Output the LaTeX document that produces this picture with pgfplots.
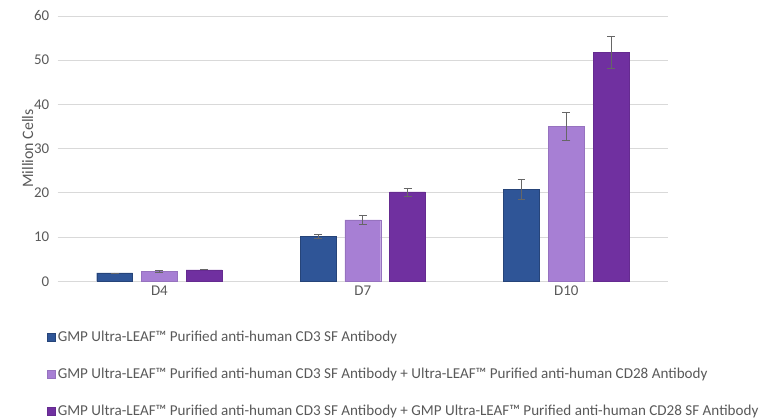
\documentclass[border=0pt]{standalone}
\usepackage{fontspec}
\setmainfont{Carlito}
\usepackage{pgfplots}
\pgfplotsset{compat=1.18}
\usepackage{pgfplotstable}

\definecolor{cdblue}{HTML}{2F5597}
\definecolor{cdlilac}{HTML}{A77FD4}
\definecolor{cdpurple}{HTML}{7030A0}
\definecolor{gridgray}{HTML}{D9D9D9}
\definecolor{textgray}{HTML}{595959}

% bars sit at category index + offset (-0.22, 0, +0.22)
\pgfplotstableread{
x y err
-0.22 1.9 0.0
0.78 10.1 0.5
1.78 20.8 2.3
}\cdthree
\pgfplotstableread{
x y err
0 2.2 0.2
1 13.9 1.0
2 35.0 3.1
}\cdtwentyeight
\pgfplotstableread{
x y err
0.22 2.6 0.0
1.22 20.2 0.9
2.22 51.8 3.6
}\cdgmp

\begin{document}
\begin{tikzpicture}
\begin{axis}[
    scale only axis,
    width=614pt, height=267pt,
    xmin=-0.5, xmax=2.5,
    ymin=0, ymax=60,
    ytick distance=10,
    xtick={0,1,2},
    xticklabels={D4, D7, D10},
    axis line style={draw=none},
    tick style={draw=none},
    ymajorgrids,
    grid style={gridgray, line width=0.8pt},
    /pgf/number format/assume math mode=true,
    tick label style={font=\fontsize{15}{17}\selectfont, text=textgray},
    yticklabel style={xshift=-5pt},
    xticklabel style={yshift=-1pt},
    ylabel={Million Cells},
    ylabel style={font=\fontsize{16}{18}\selectfont, text=textgray, yshift=-6pt},
    bar width=0.176,
    bar shift=0,
    legend cell align=left,
    legend style={
        at={(rel axis cs:0,0)}, anchor=north west,
        xshift=-11pt, yshift=-48pt,
        draw=none, fill=none,
        font=\fontsize{15.2}{17}\selectfont, text=textgray,
        row sep=21pt, inner sep=0pt,
        nodes={inner xsep=2.5pt},
    },
    legend image code/.code={\fill[#1] (0pt,-4pt) rectangle (8pt,4pt);},
    error bars/y dir=both,
    error bars/y explicit,
    error bars/error bar style={gray!80!black, line width=0.8pt},
    error bars/error mark options={rotate=90, mark size=4pt, gray!80!black, line width=0.8pt},
]
\addplot[ybar, fill=cdblue, draw=cdblue!80!black]
    table[x=x, y=y, y error=err] {\cdthree};
\addplot[ybar, fill=cdlilac, draw=cdlilac!90!black]
    table[x=x, y=y, y error=err] {\cdtwentyeight};
\addplot[ybar, fill=cdpurple, draw=cdpurple!90!black]
    table[x=x, y=y, y error=err] {\cdgmp};
\legend{GMP Ultra-LEAF™ Purified anti-human CD3 SF Antibody,
        GMP Ultra-LEAF™ Purified anti-human CD3 SF Antibody + Ultra-LEAF™ Purified anti-human CD28 Antibody,
        GMP Ultra-LEAF™ Purified anti-human CD3 SF Antibody + GMP Ultra-LEAF™ Purified anti-human CD28 SF Antibody}
\end{axis}
\useasboundingbox (current axis.south west) ++(-58pt,-138pt) rectangle ++(761pt,421pt);
\end{tikzpicture}
\end{document}
